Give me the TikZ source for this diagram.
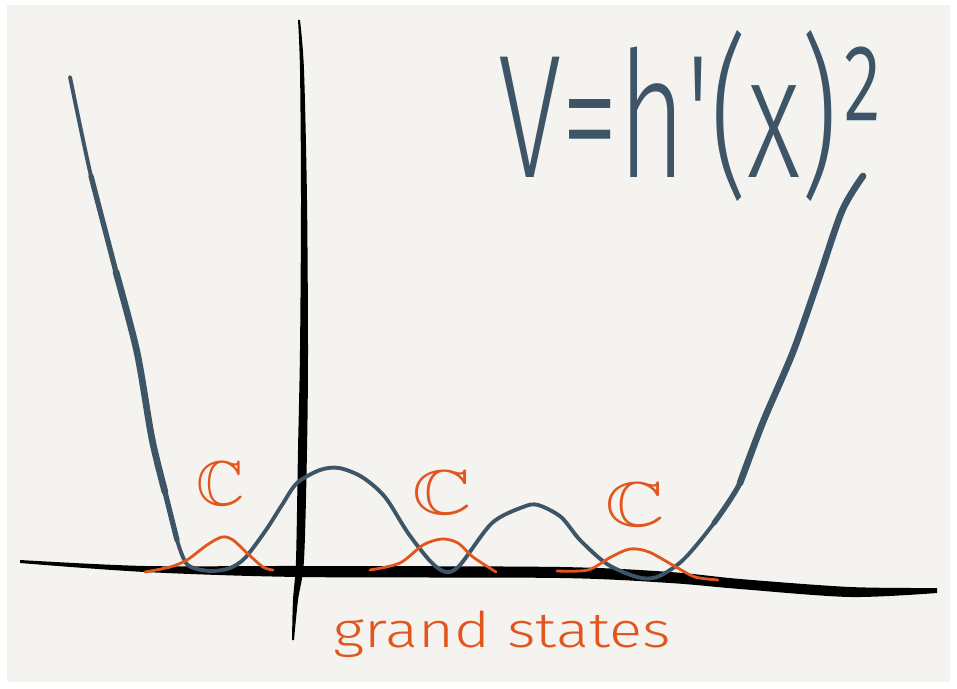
\documentclass[tikz,border=0pt]{standalone}
\usepackage{fontspec}
\usepackage{amssymb}
\newfontfamily\handfont{Fira Sans}[UprightFont=* Light]
\definecolor{slate}{HTML}{3D5567}
\definecolor{rust}{HTML}{E2561E}
\definecolor{paper}{HTML}{F4F3F0}

\begin{document}
\begin{tikzpicture}[x=0.02cm,y=-0.02cm,
  pot/.style={draw=slate,line width=2.2pt,line cap=round,line join=round},
  potmid/.style={pot,line width=3pt},
  potthick/.style={pot,line width=3.8pt},
  bump/.style={draw=rust,line width=1.6pt,line cap=round},
  field/.style={text=rust,font=\fontsize{36}{40}\selectfont,inner sep=0pt},
  axisbar/.style={fill=black}]

\useasboundingbox (0,0) rectangle (957,689);
\fill[paper] (7,5) rectangle (950,682);

% axes
\fill[axisbar] plot[smooth] coordinates {(20,560) (145,566) (300,566) (560,567) (670,572) (740,579) (850,587) (937,588)}
  -- plot[smooth] coordinates {(937,593) (850,597) (740,589) (670,583) (560,578) (300,577) (145,572) (20,563)} -- cycle;
\fill[axisbar] plot[smooth] coordinates {(298,20) (300,70) (301,200) (300,350) (298,450) (296,560) (293,600) (292,640)}
  -- plot[smooth] coordinates {(294,640) (298,600) (304,560) (307,450) (308,350) (307,200) (304,70) (300,20)} -- cycle;

% potential
\draw[pot] plot[smooth] coordinates {(70,77) (91,176) (116,272) (137,352) (152,439) (165,492) (177,540) (186,563)
  (197,569) (213,571) (230,568) (245,558) (266,530) (282,505) (297,483) (320,470) (339,468) (362,477) (385,497)
  (408,533) (431,562) (446,572) (460,565) (492,523) (523,507) (538,505) (561,517) (580,540) (607,564) (637,577)
  (657,577) (683,560) (714,523) (740,483) (763,422) (793,352) (818,281) (842,211) (863,176)};
\draw[potmid] plot[smooth] coordinates {(91,176) (116,272) (137,352) (152,439) (165,492) (177,540)};
\draw[potthick] plot[smooth] coordinates {(116,272) (137,352) (152,439) (165,492)};
\draw[potmid] plot[smooth] coordinates {(714,523) (740,483) (763,422) (793,352) (818,281) (842,211) (863,176)};
\draw[potthick] plot[smooth] coordinates {(740,483) (763,422) (793,352) (818,281) (842,211) (863,176)};

% ground states
\draw[bump] plot[smooth] coordinates {(145,572) (170,567) (187,560) (207,545) (222,537) (233,540) (247,553) (263,567) (273,570)};
\draw[bump] plot[smooth] coordinates {(370,570) (400,563) (423,545) (442,539) (458,543) (473,557) (496,572)};
\draw[bump] plot[smooth] coordinates {(557,571) (588,570) (611,557) (630,549) (649,552) (676,567) (695,577) (718,580)};

\node[field,xscale=1.05] (c1) at (220,484) {$\mathbb{C}$};
\node[field,xscale=1.3] (c2) at (442,493) {$\mathbb{C}$};
\node[field,xscale=1.3] (c3) at (635,505) {$\mathbb{C}$};

\node[anchor=base west,inner sep=0pt,text=rust,font=\handfont\fontsize{28}{30}\selectfont,xscale=1.25] (gs) at (333,647) {grand states};
\node[anchor=base west,inner sep=0pt,text=slate,font=\handfont\fontsize{100}{110}\selectfont,xscale=0.66] (vform) at (498,178) {V=h\textquotesingle(x)²};
\end{tikzpicture}
\end{document}
